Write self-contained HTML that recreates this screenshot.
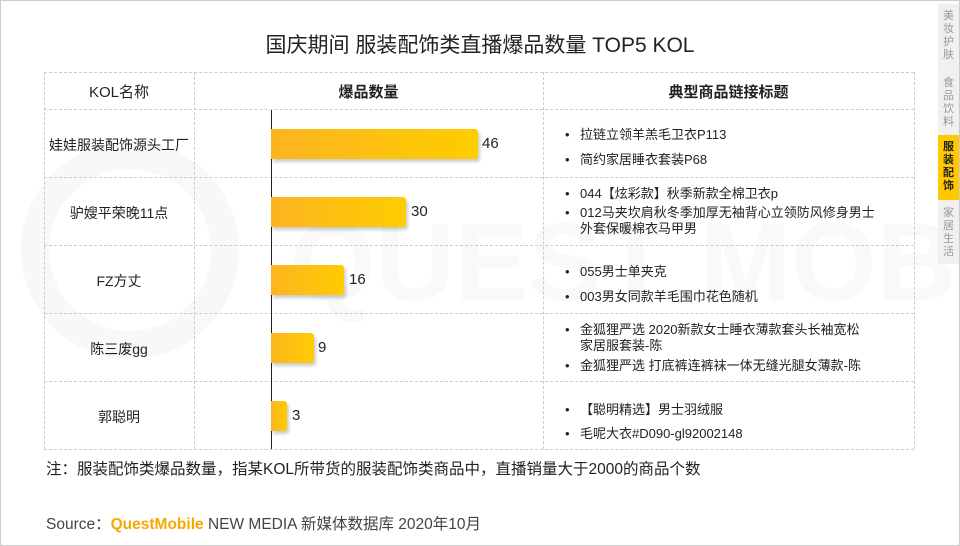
<!DOCTYPE html><html><head><meta charset="utf-8"><style>
*{margin:0;padding:0;box-sizing:border-box}
body{width:960px;height:546px;background:#fff;position:relative;overflow:hidden;font-family:"Liberation Sans","Noto Sans CJK SC",sans-serif;color:#222}
.frame{position:absolute;left:0;top:0;width:960px;height:546px;border:1px solid #ccc}
.t{position:absolute;white-space:nowrap}
.h{border-top:1px dashed #ccc;position:absolute;left:44px;width:870px;height:0}
.v{border-left:1px dashed #ccc;position:absolute;top:72px;height:377px;width:0}
.bar{position:absolute;left:271px;height:30px;background:linear-gradient(90deg,#fbb520,#ffcc00);border-radius:0 3px 3px 0;box-shadow:2px 3px 3px rgba(0,0,0,.2)}
.side{position:absolute;left:938px;width:21px;font-size:11px;line-height:13px;text-align:center;color:#999}
.b{position:absolute;left:580px;font-size:13px;line-height:16px;white-space:nowrap}
.b::before{content:"•";position:absolute;left:-15px}
.k{left:44px;width:150px;text-align:center;font-size:14px}
</style></head><body>
<div class="frame"></div>
<svg style="position:absolute;left:0;top:0" width="960" height="546"><circle cx="130" cy="250" r="95" fill="none" stroke="#f8f8f8" stroke-width="28"/><text x="290" y="300" font-size="110" fill="#f9f9f9" font-family="Liberation Sans" font-weight="bold">QUEST MOBILE</text></svg>
<div class="side" style="top:4px;height:260px;background:#f0f0f0"></div>
<div class="side" style="top:10px">美<br>妆<br>护<br>肤</div>
<div class="side" style="top:77px">食<br>品<br>饮<br>料</div>
<div class="side" style="top:135px;height:65px;background:#ffc800;color:#222;font-weight:bold;padding-top:6px">服<br>装<br>配<br>饰</div>
<div class="side" style="top:207px">家<br>居<br>生<br>活</div>
<div class="t" style="left:0;width:960px;text-align:center;top:29px;font-size:21px">国庆期间 服装配饰类直播爆品数量 TOP5 KOL</div>
<div class="h" style="top:72px"></div><div class="h" style="top:109px"></div><div class="h" style="top:177px"></div><div class="h" style="top:245px"></div><div class="h" style="top:313px"></div><div class="h" style="top:381px"></div><div class="h" style="top:449px"></div>
<div class="v" style="left:44px"></div><div class="v" style="left:194px"></div><div class="v" style="left:543px"></div><div class="v" style="left:914px"></div>
<div style="position:absolute;left:271px;top:110px;height:339px;border-left:1px solid #222"></div>
<div class="t" style="left:44px;width:150px;text-align:center;top:81px;font-size:15px">KOL名称</div>
<div class="t" style="left:194px;width:349px;text-align:center;top:81px;font-size:15px;font-weight:bold">爆品数量</div>
<div class="t" style="left:543px;width:371px;text-align:center;top:81px;font-size:15px;font-weight:bold">典型商品链接标题</div>
<div class="t k" style="top:135px">娃娃服装配饰源头工厂</div>
<div class="t k" style="top:203px">驴嫂平荣晚11点</div>
<div class="t k" style="top:271px">FZ方丈</div>
<div class="t k" style="top:339px">陈三废gg</div>
<div class="t k" style="top:407px">郭聪明</div>
<div class="bar" style="top:129px;width:207px"></div><div class="t" style="left:482px;top:135px;font-size:15px">46</div>
<div class="bar" style="top:197px;width:135px"></div><div class="t" style="left:411px;top:203px;font-size:15px">30</div>
<div class="bar" style="top:265px;width:73px"></div><div class="t" style="left:349px;top:271px;font-size:15px">16</div>
<div class="bar" style="top:333px;width:43px"></div><div class="t" style="left:318px;top:339px;font-size:15px">9</div>
<div class="bar" style="top:401px;width:16px"></div><div class="t" style="left:292px;top:407px;font-size:15px">3</div>
<div class="b" style="top:127px">拉链立领羊羔毛卫衣P113</div>
<div class="b" style="top:152px">简约家居睡衣套装P68</div>
<div class="b" style="top:186px">044【炫彩款】秋季新款全棉卫衣p</div>
<div class="b" style="top:205px">012马夹坎肩秋冬季加厚无袖背心立领防风修身男士<br>外套保暖棉衣马甲男</div>
<div class="b" style="top:264px">055男士单夹克</div>
<div class="b" style="top:289px">003男女同款羊毛围巾花色随机</div>
<div class="b" style="top:322px">金狐狸严选 2020新款女士睡衣薄款套头长袖宽松<br>家居服套装-陈</div>
<div class="b" style="top:358px">金狐狸严选 打底裤连裤袜一体无缝光腿女薄款-陈</div>
<div class="b" style="top:402px">【聪明精选】男士羽绒服</div>
<div class="b" style="top:426px">毛呢大衣#D090-gl92002148</div>
<div class="t" style="left:46px;top:457px;font-size:15.5px">注：服装配饰类爆品数量，指某KOL所带货的服装配饰类商品中，直播销量大于2000的商品个数</div>
<div class="t" style="left:46px;top:512px;font-size:15.5px;color:#444">Source：<span style="color:#f5a800;font-weight:bold">QuestMobile</span> NEW MEDIA 新媒体数据库 2020年10月</div>
</body></html>
